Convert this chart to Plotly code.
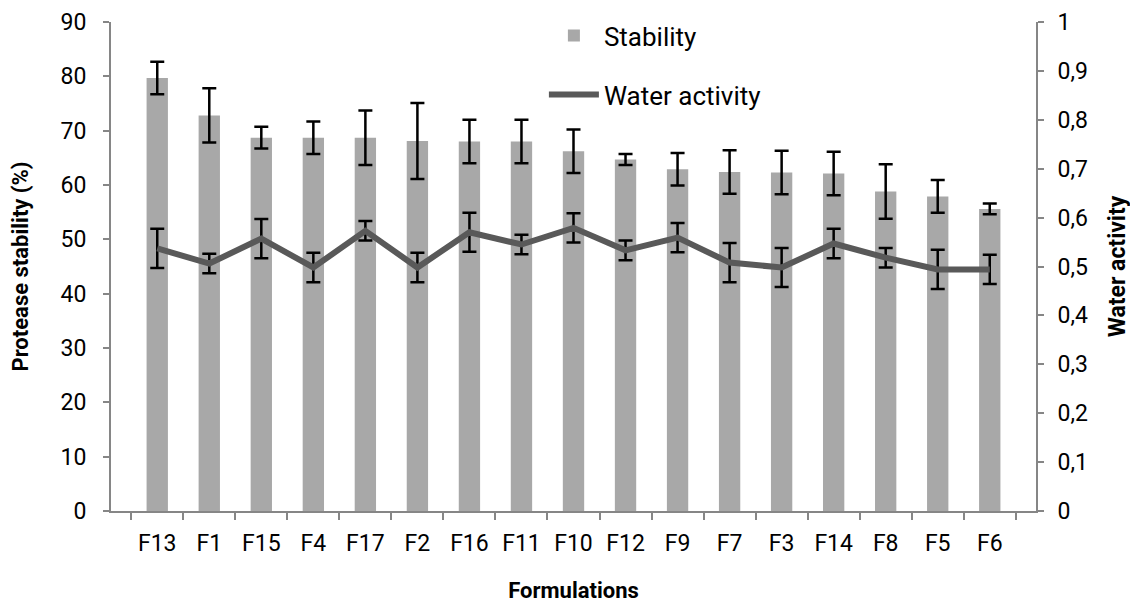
import plotly.graph_objects as go

formulations = ["F13", "F1", "F15", "F4", "F17", "F2", "F16", "F11", "F10",
                "F12", "F9", "F7", "F3", "F14", "F8", "F5", "F6"]
stability = [79.7, 72.8, 68.7, 68.7, 68.7, 68.1, 68.0, 68.0, 66.2,
             64.7, 62.9, 62.4, 62.3, 62.1, 58.8, 57.9, 55.6]
stability_err = [3.0, 5.0, 2.0, 3.0, 5.0, 7.0, 4.0, 4.0, 4.0,
                 1.0, 3.0, 4.0, 4.0, 4.0, 5.0, 3.0, 1.0]
water_activity = [0.537, 0.506, 0.557, 0.498, 0.573, 0.498, 0.570, 0.545, 0.579,
                  0.533, 0.559, 0.508, 0.498, 0.547, 0.518, 0.494, 0.494]
water_err = [0.04, 0.02, 0.04, 0.03, 0.02, 0.03, 0.04, 0.02, 0.03,
             0.02, 0.03, 0.04, 0.04, 0.03, 0.02, 0.04, 0.03]

FONT = "Roboto, Open Sans, sans-serif"
AXC = "#868686"

fig = go.Figure()
fig.add_trace(go.Bar(
    x=formulations, y=stability, name="Stability",
    marker=dict(color="#a8a8a8", line=dict(width=0)),
    error_y=dict(type="data", array=stability_err, color="black", thickness=2.5, width=7),
    legendgroup="a",
))
fig.add_trace(go.Scatter(
    x=formulations, y=water_activity, name="Water activity", yaxis="y2",
    mode="lines", line=dict(color="#595959", width=6),
    error_y=dict(type="data", array=water_err, color="black", thickness=2.5, width=7),
    legendgroup="b",
))

fig.update_layout(
    width=1138, height=602,
    margin=dict(l=103, r=110, t=4, b=99),
    paper_bgcolor="white", plot_bgcolor="white",
    separators=", ",
    bargap=0.59,
    showlegend=True,
    font=dict(family=FONT, color="#000000", size=23),
    legend=dict(x=0.468, y=1.02, xanchor="left", yanchor="top",
                font=dict(size=26, family=FONT), tracegroupgap=22,
                bgcolor="rgba(0,0,0,0)", itemwidth=50),
    xaxis=dict(
        automargin=False,
        showline=True, linecolor=AXC, linewidth=2,
        ticks="outside", tickson="boundaries", ticklen=7, tickcolor=AXC, tickwidth=1.5,
        tickfont=dict(size=23, family=FONT), ticklabelstandoff=10,
        title=dict(text="<b>Formulations</b>", font=dict(size=22, family=FONT), standoff=27),
    ),
    yaxis=dict(
        automargin=False,
        range=[0, 90], dtick=10, showgrid=False, zeroline=False,
        showline=True, linecolor=AXC, linewidth=2,
        ticks="outside", ticklen=6, tickcolor=AXC, tickwidth=1.5,
        tickfont=dict(size=23, family=FONT), ticklabelstandoff=12,
        title=dict(text="<b>Protease stability (%)</b>", font=dict(size=22, family=FONT), standoff=28),
    ),
    yaxis2=dict(
        automargin=False,
        range=[0, 1], dtick=0.1, overlaying="y", side="right", showgrid=False, zeroline=False,
        showline=True, linecolor=AXC, linewidth=2,
        ticks="outside", ticklen=6, tickcolor=AXC, tickwidth=1.5,
        tickfont=dict(size=23, family=FONT), ticklabelstandoff=9,
        title=dict(text="<b>Water activity</b>", font=dict(size=23, family=FONT), standoff=22),
    ),
)

fig.write_html("out.html")
